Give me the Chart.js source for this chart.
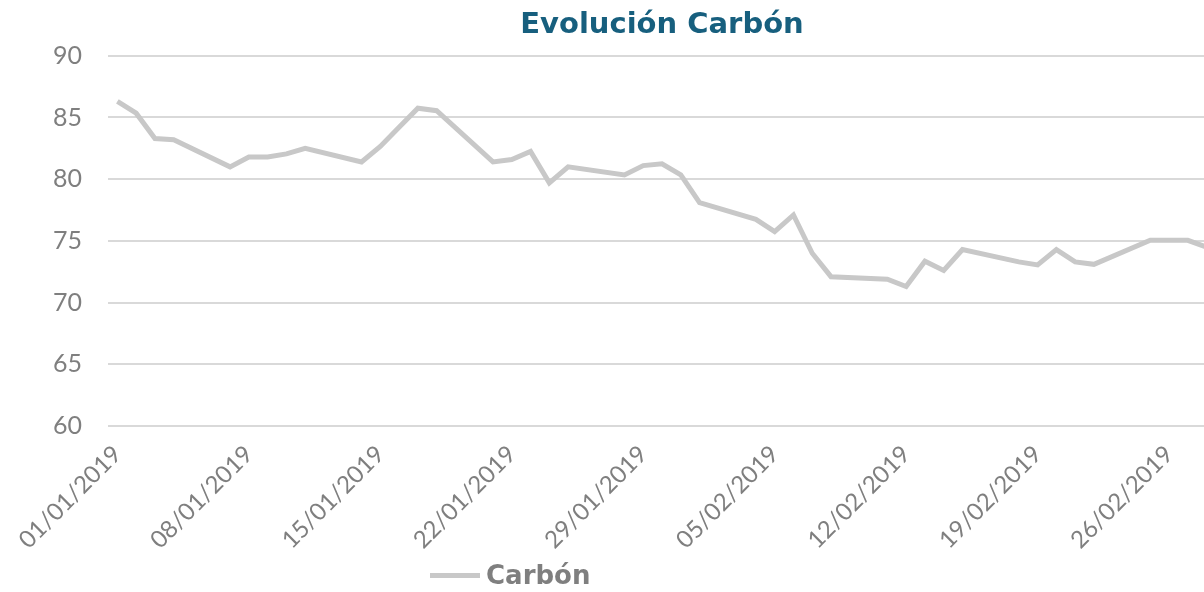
<!DOCTYPE html>
<html>
<head>
<meta charset="utf-8">
<script src="https://cdn.jsdelivr.net/npm/chart.js@4/dist/chart.umd.min.js"></script>
<style>
    html, body { margin: 0; padding: 0; background: #fff; overflow: hidden; }
    .chart-box { position: relative; width: 1230px; height: 592px; }
    .legend { position: absolute; left: 430px; top: 560px; font: bold 26px "DejaVu Sans", sans-serif; color: #7f7f7f; display: flex; align-items: center; }
    .legend .swatch { display: inline-block; width: 50px; height: 5px; background: #c8c8c8; margin-right: 6px; }
</style>
</head>
<body>
<div class="chart-box">
    <canvas id="carbon"></canvas>
    <div class="legend"><span class="swatch"></span><span>Carbón</span></div>
</div>
<script>
    "use strict";

    // Data
    var dates = [
        "01/01/2019", "02/01/2019", "03/01/2019", "04/01/2019",
        "07/01/2019", "08/01/2019", "09/01/2019", "10/01/2019", "11/01/2019",
        "14/01/2019", "15/01/2019", "16/01/2019", "17/01/2019", "18/01/2019",
        "21/01/2019", "22/01/2019", "23/01/2019", "24/01/2019", "25/01/2019",
        "28/01/2019", "29/01/2019", "30/01/2019", "31/01/2019", "01/02/2019",
        "04/02/2019", "05/02/2019", "06/02/2019", "07/02/2019", "08/02/2019",
        "11/02/2019", "12/02/2019", "13/02/2019", "14/02/2019", "15/02/2019",
        "18/02/2019", "19/02/2019", "20/02/2019", "21/02/2019", "22/02/2019",
        "25/02/2019", "26/02/2019", "27/02/2019", "28/02/2019"
    ];
    var carbon = [
        86.3, 85.35, 83.3, 83.2,
        81.0, 81.8, 81.8, 82.05, 82.5,
        81.4, 82.65, 84.2, 85.75, 85.55,
        81.4, 81.6, 82.25, 79.7, 81.0,
        80.35, 81.1, 81.25, 80.35, 78.1,
        76.75, 75.75, 77.1, 74.0, 72.1,
        71.9, 71.3, 73.35, 72.6, 74.3,
        73.3, 73.05, 74.3, 73.3, 73.1,
        75.05, 75.05, 75.05, 74.5
    ];
    var yTicks = [60, 65, 70, 75, 80, 85, 90];
    var tickEveryDays = 7;

    // date helpers
    function parseDate(s) {
        var p = s.split("/");
        return Date.UTC(+p[2], +p[1] - 1, +p[0]);
    }
    var start = parseDate(dates[0]);
    var dayMs = 86400000;
    function dayIndex(s) { return Math.round((parseDate(s) - start) / dayMs); }
    function pad(n) { return (n < 10 ? "0" : "") + n; }
    function fmtDay(d) {
        var dt = new Date(start + d * dayMs);
        return pad(dt.getUTCDate()) + "/" + pad(dt.getUTCMonth() + 1) + "/" + dt.getUTCFullYear();
    }

    var points = dates.map(function (d, i) { return { x: dayIndex(d), y: carbon[i] }; });
    var lastDay = dayIndex(dates[dates.length - 1]);

    var grey = "#7f7f7f";

    var ctx = document.getElementById("carbon").getContext("2d");
    var chart = new Chart(ctx, {
        type: "line",
        data: {
            datasets: [{
                label: "Carbón",
                data: points,
                borderColor: "#c8c8c8",
                backgroundColor: "#c8c8c8",
                borderWidth: 5,
                pointRadius: 0,
                tension: 0,
                fill: false
            }]
        },
        options: {
            responsive: true,
            maintainAspectRatio: false,
            animation: false,
            layout: { padding: { left: 0, right: 14, top: 0, bottom: 0 } },
            plugins: {
                legend: { display: false },
                tooltip: { enabled: false },
                title: {
                    display: true,
                    text: "Evolución Carbón",
                    fullSize: false,
                    color: "#175f7e",
                    font: { family: "'DejaVu Sans', sans-serif", size: 29, weight: "bold", lineHeight: 1.2 },
                    padding: { top: 8, bottom: 13 }
                }
            },
            scales: {
                x: {
                    type: "linear",
                    min: -0.5,
                    max: lastDay + 0.5,
                    grid: { display: false },
                    border: { display: false },
                    afterBuildTicks: function (scale) {
                        var t = [];
                        for (var d = 0; d <= lastDay; d += tickEveryDays) t.push({ value: d });
                        scale.ticks = t;
                    },
                    afterFit: function (scale) { scale.height = 166; },
                    ticks: {
                        autoSkip: false,
                        minRotation: 45,
                        maxRotation: 45,
                        padding: 6,
                        color: grey,
                        font: { family: "Lato, sans-serif", size: 24 },
                        callback: function (v) { return fmtDay(v); }
                    }
                },
                y: {
                    min: yTicks[0],
                    max: yTicks[yTicks.length - 1],
                    border: { display: false },
                    grid: { color: "#d9d9d9", lineWidth: 2, drawTicks: false },
                    afterFit: function (scale) { scale.width = 108; },
                    ticks: {
                        stepSize: 5,
                        padding: 26,
                        color: grey,
                        font: { family: "Lato, sans-serif", size: 25 }
                    }
                }
            }
        }
    });
</script>
</body>
</html>
